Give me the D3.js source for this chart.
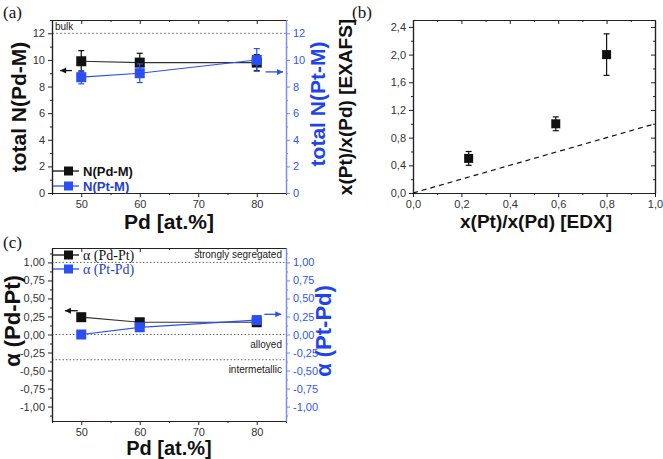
<!DOCTYPE html>
<html>
<head>
<meta charset="UTF-8">
<script src="https://cdn.jsdelivr.net/npm/d3@7"></script>
<style>
body{margin:0;background:#fff;}
</style>
</head>
<body>
<script>

// data
var pdAt = [50, 60, 80];
var nPdM = [9.9, 9.8, 9.8];
var nPdMErr = [0.8, 0.7, 0.6];
var nPtM = [8.7, 9.0, 10.0];
var nPtMErr = [0.5, 0.7, 0.85];

var edxRatio = [0.23, 0.59, 0.80];
var exafsRatio = [0.5, 1.0, 2.0];
var exafsErr = [0.1, 0.1, 0.3];

var alphaPdPt = [0.24, 0.17, 0.17];
var alphaPtPd = [0.0, 0.1, 0.2];

var refLevels = [1.0, 0.0, -0.35];
var refLabels = ["strongly segregated", "alloyed", "intermetallic"];

var blue = "#2a4ff5";
var blueAxis = "#6f88ff";
var blueText = "#2f55ff";
var dark = "#222";
var sans = "Liberation Sans, Arial, sans-serif";
var serif = "Liberation Serif, Times New Roman, serif";

var loc = d3.formatLocale({decimal: ",", thousands: ".", grouping: [3], currency: ["", ""], minus: "-"});
var f1 = loc.format(".1f"), f2 = loc.format(".2f");

var svg = d3.select("body").append("svg")
    .attr("width", 663)
    .attr("height", 459)
    .attr("font-family", sans);

function range(a, b, s){
    var out = [];
    for (var v = a; v <= b + 1e-9; v += s) out.push(+v.toFixed(4));
    return out;
}

function styleAxis(sel, col, tcol){
    sel.attr("font-family", sans);
    sel.selectAll("path").attr("stroke", col).attr("stroke-width", 1.2);
    sel.selectAll("line").attr("stroke", col).attr("stroke-width", 1);
    sel.selectAll("text").attr("fill", tcol).attr("font-size", 11);
}

// generic frame: x,y scales, tick values, formats, right axis colour
function frame(x, y, o){
    var x0 = x.range()[0], x1 = x.range()[1], y0 = y.range()[0], y1 = y.range()[1];
    var g = svg.append("g");
    // bottom
    var b = g.append("g").attr("transform", "translate(0," + y0 + ")")
        .call(d3.axisBottom(x).tickValues(o.xMajor).tickSize(4).tickSizeOuter(0).tickPadding(3).tickFormat(o.xFmt));
    styleAxis(b, dark, "#333");
    var bm = g.append("g").attr("transform", "translate(0," + y0 + ")")
        .call(d3.axisBottom(x).tickValues(o.xMinor).tickSize(2).tickSizeOuter(0).tickFormat(""));
    styleAxis(bm, dark, "#333");
    // top (inward)
    var t = g.append("g").attr("transform", "translate(0," + y1 + ")")
        .call(d3.axisTop(x).tickValues(o.xMajor).tickSize(-4).tickSizeOuter(0).tickFormat(""));
    styleAxis(t, dark, "#333");
    var tm = g.append("g").attr("transform", "translate(0," + y1 + ")")
        .call(d3.axisTop(x).tickValues(o.xMinor).tickSize(-2).tickSizeOuter(0).tickFormat(""));
    styleAxis(tm, dark, "#333");
    // left
    var l = g.append("g").attr("transform", "translate(" + x0 + ",0)")
        .call(d3.axisLeft(y).tickValues(o.yMajor).tickSize(4).tickSizeOuter(0).tickPadding(3).tickFormat(o.yFmt));
    styleAxis(l, dark, "#333");
    var lm = g.append("g").attr("transform", "translate(" + x0 + ",0)")
        .call(d3.axisLeft(y).tickValues(o.yMinor).tickSize(2).tickSizeOuter(0).tickFormat(""));
    styleAxis(lm, dark, "#333");
    // right
    if (o.rightBlue) {
        var r = g.append("g").attr("transform", "translate(" + x1 + ",0)")
            .call(d3.axisRight(y).tickValues(o.yMajor).tickSize(4).tickSizeOuter(0).tickPadding(3).tickFormat(o.yFmt));
        styleAxis(r, blueAxis, blueText);
        var rm = g.append("g").attr("transform", "translate(" + x1 + ",0)")
            .call(d3.axisRight(y).tickValues(o.yMinor).tickSize(2).tickSizeOuter(0).tickFormat(""));
        styleAxis(rm, blueAxis, blueText);
    } else {
        var r2 = g.append("g").attr("transform", "translate(" + x1 + ",0)")
            .call(d3.axisRight(y).tickValues(o.yMajor).tickSize(-4).tickSizeOuter(0).tickFormat(""));
        styleAxis(r2, dark, "#333");
        var rm2 = g.append("g").attr("transform", "translate(" + x1 + ",0)")
            .call(d3.axisRight(y).tickValues(o.yMinor).tickSize(-2).tickSizeOuter(0).tickFormat(""));
        styleAxis(rm2, dark, "#333");
    }
    return g;
}

function series(x, y, xs, ys, errs, col, lineCol, sz){
    var g = svg.append("g");
    var pts = xs.map(function(d, i){ return {x: d, y: ys[i], e: errs ? errs[i] : 0}; });
    if (lineCol) {
        g.append("path").datum(pts)
            .attr("d", d3.line().x(function(d){ return x(d.x); }).y(function(d){ return y(d.y); }))
            .attr("fill", "none").attr("stroke", lineCol).attr("stroke-width", 1.2);
    }
    if (errs) {
        var eb = g.selectAll(".eb").data(pts).enter().append("g").attr("stroke", col).attr("stroke-width", 1.2);
        eb.append("line")
            .attr("x1", function(d){ return x(d.x); }).attr("x2", function(d){ return x(d.x); })
            .attr("y1", function(d){ return y(d.y - d.e); }).attr("y2", function(d){ return y(d.y + d.e); });
        eb.append("line")
            .attr("x1", function(d){ return x(d.x) - 3; }).attr("x2", function(d){ return x(d.x) + 3; })
            .attr("y1", function(d){ return y(d.y + d.e); }).attr("y2", function(d){ return y(d.y + d.e); });
        eb.append("line")
            .attr("x1", function(d){ return x(d.x) - 3; }).attr("x2", function(d){ return x(d.x) + 3; })
            .attr("y1", function(d){ return y(d.y - d.e); }).attr("y2", function(d){ return y(d.y - d.e); });
    }
    g.selectAll("rect").data(pts).enter().append("rect")
        .attr("x", function(d){ return x(d.x) - sz / 2; })
        .attr("y", function(d){ return y(d.y) - sz / 2; })
        .attr("width", sz).attr("height", sz)
        .attr("fill", col);
}

function arrow(x, y, xa, xb, yv, col, dir){
    var g = svg.append("g");
    var xs = x(xa), xe = x(xb), yy = y(yv);
    g.append("line").attr("x1", xs).attr("x2", xe).attr("y1", yy).attr("y2", yy)
        .attr("stroke", col).attr("stroke-width", 1.3);
    var tip = dir < 0 ? xs : xe;
    g.append("path")
        .attr("d", "M" + tip + "," + yy + "l" + (-dir * 6) + ",-3l0,6z")
        .attr("fill", col);
}

function legendItem(x0, y, label, col, isSerif){
    svg.append("line").attr("x1", x0).attr("x2", x0 + 26).attr("y1", y).attr("y2", y)
        .attr("stroke", col).attr("stroke-width", 1.3);
    svg.append("rect").attr("x", x0 + 11).attr("y", y - 4.5).attr("width", 9).attr("height", 9).attr("fill", col);
    var t = svg.append("text").attr("x", x0 + 30).attr("y", y + 4.5).attr("fill", col === blue ? "#1e3fd0" : "#111")
        .text(label);
    if (isSerif) t.attr("font-family", serif).attr("font-size", 14);
    else t.attr("font-weight", "bold").attr("font-size", 13);
}

function panelTag(x, y, s){
    svg.append("text").attr("x", x).attr("y", y).attr("font-family", serif)
        .attr("font-size", 17).attr("fill", "#111").text(s);
}

function yTitle(cx, cy, s, col, size){
    svg.append("text").attr("transform", "translate(" + cx + "," + cy + ") rotate(-90)")
        .attr("text-anchor", "middle").attr("font-weight", "bold").attr("font-size", size)
        .attr("fill", col).text(s);
}

function xTitle(cx, y, s, size){
    svg.append("text").attr("x", cx).attr("y", y).attr("text-anchor", "middle")
        .attr("font-weight", "bold").attr("font-size", size).attr("fill", "#111").text(s);
}

// ---------- panel (a)
var xa = d3.scaleLinear().domain([45, 85]).range([52, 286]);
var ya = d3.scaleLinear().domain([0, 13]).range([193, 20]);

svg.append("line").attr("x1", xa(45)).attr("x2", xa(85)).attr("y1", ya(12)).attr("y2", ya(12))
    .attr("stroke", "#888").attr("stroke-width", 1).attr("stroke-dasharray", "2,2");
svg.append("text").attr("x", xa(45) + 3).attr("y", ya(12) - 3).attr("font-size", 10).attr("fill", "#222").text("bulk");

frame(xa, ya, {
    xMajor: [50, 60, 70, 80], xMinor: [45, 55, 65, 75, 85], xFmt: d3.format("d"),
    yMajor: range(0, 12, 2), yMinor: range(1, 13, 2), yFmt: d3.format("d"), rightBlue: true
});
series(xa, ya, pdAt, nPdM, nPdMErr, "#111", "#333", 10);
series(xa, ya, pdAt, nPtM, nPtMErr, blue, blue, 10);
arrow(xa, ya, 46.4, 48.4, 9.2, "#111", -1);
arrow(xa, ya, 81.5, 84.5, 9.1, blue, 1);
legendItem(53, 171, "N(Pd-M)", "#111", false);
legendItem(53, 186, "N(Pt-M)", blue, false);
panelTag(3, 18, "(a)");
yTitle(26, 107, "total N(Pd-M)", "#111", 21);
yTitle(325, 104, "total N(Pt-M)", "#1e44f0", 21);
xTitle(169, 229, "Pd [at.%]", 21);

// ---------- panel (b)
var xb = d3.scaleLinear().domain([0, 1]).range([413, 655]);
var yb = d3.scaleLinear().domain([0, 2.5]).range([193, 20]);

frame(xb, yb, {
    xMajor: range(0, 1, 0.2), xMinor: range(0.1, 0.9, 0.2), xFmt: f1,
    yMajor: range(0, 2.4, 0.4), yMinor: range(0.2, 2.4, 0.4), yFmt: f1, rightBlue: false
});
svg.append("line").attr("x1", xb(0)).attr("y1", yb(0)).attr("x2", xb(1)).attr("y2", yb(1))
    .attr("stroke", "#111").attr("stroke-width", 1.2).attr("stroke-dasharray", "5,4");
series(xb, yb, edxRatio, exafsRatio, exafsErr, "#111", null, 9);
panelTag(352, 18, "(b)");
yTitle(352, 107, "x(Pt)/x(Pd) [EXAFS]", "#111", 19);
xTitle(536, 228, "x(Pt)/x(Pd) [EDX]", 19);

// ---------- panel (c)
var xc = d3.scaleLinear().domain([45, 85]).range([52, 286]);
var yc = d3.scaleLinear().domain([-1.2, 1.2]).range([421, 248]);

refLevels.forEach(function(v, i){
    svg.append("line").attr("x1", xc(45)).attr("x2", xc(85)).attr("y1", yc(v)).attr("y2", yc(v))
        .attr("stroke", "#666").attr("stroke-width", 1).attr("stroke-dasharray", "1.5,2");
    svg.append("text").attr("x", xc(85) - 4).attr("y", i === 0 ? yc(v) - 4 : yc(v) + 13)
        .attr("text-anchor", "end").attr("font-size", 10).attr("fill", "#222").text(refLabels[i]);
});

frame(xc, yc, {
    xMajor: [50, 60, 70, 80], xMinor: [45, 55, 65, 75, 85], xFmt: d3.format("d"),
    yMajor: range(-1, 1, 0.25), yMinor: range(-1.125, 1.125, 0.25), yFmt: f2, rightBlue: true
});
series(xc, yc, pdAt, alphaPdPt, null, "#111", "#333", 10);
series(xc, yc, pdAt, alphaPtPd, null, blue, blue, 10);
arrow(xc, yc, 47.2, 49.4, 0.33, "#111", -1);
arrow(xc, yc, 81.3, 84.2, 0.28, blue, 1);
legendItem(53, 255, "α (Pd-Pt)", "#111", true);
legendItem(53, 269, "α (Pt-Pd)", blue, true);
panelTag(3, 248, "(c)");
yTitle(20, 321, "α (Pd-Pt)", "#111", 22);
yTitle(331, 331, "α (Pt-Pd)", "#1e44f0", 22);
xTitle(169, 455, "Pd [at.%]", 20);

</script>
</body>
</html>
